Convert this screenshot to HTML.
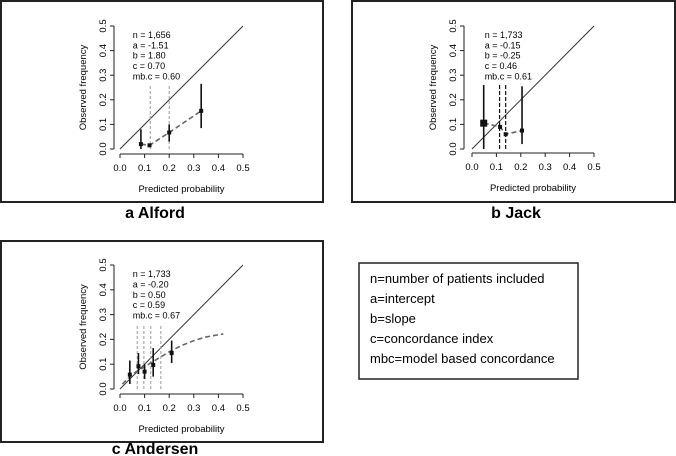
<!DOCTYPE html>
<html><head><meta charset="utf-8"><style>
body{margin:0;background:#fff;width:676px;height:456px;overflow:hidden}
svg{display:block}
text{font-family:"Liberation Sans",Arial,sans-serif}
</style></head><body>
<svg id="s" width="676" height="456" viewBox="0 0 676 456" xmlns="http://www.w3.org/2000/svg">
<rect x="1" y="1" width="322" height="201" fill="none" stroke="#222" stroke-width="2"/>
<rect x="352" y="1" width="323" height="201" fill="none" stroke="#222" stroke-width="2"/>
<rect x="1" y="241" width="322" height="201" fill="none" stroke="#222" stroke-width="2"/>
<text x="155" y="218" font-size="16" font-weight="bold" text-anchor="middle">a  Alford</text>
<text x="516" y="218" font-size="16" font-weight="bold" text-anchor="middle">b  Jack</text>
<text x="155" y="454" font-size="16" font-weight="bold" text-anchor="middle">c  Andersen</text>
<g>
<rect x="359" y="263" width="219" height="116" fill="none" stroke="#222" stroke-width="1.5"/>
<text x="370" y="283" font-size="13">n=number of patients included</text>
<text x="370" y="303" font-size="13">a=intercept</text>
<text x="370" y="323" font-size="13">b=slope</text>
<text x="370" y="343" font-size="13">c=concordance index</text>
<text x="370" y="363" font-size="13">mbc=model based concordance</text>
</g>
</svg>
<script>
const tickLabels = ["0.0","0.1","0.2","0.3","0.4","0.5"];
const tickValues = [0,0.1,0.2,0.3,0.4,0.5];
// Panel a (Alford)
const aStats = ["n = 1,656","a = -1.51","b = 1.80","c = 0.70","mb.c = 0.60"];
const aX = [0.085,0.12,0.20,0.33];
const aY = [0.02,0.015,0.067,0.155];
const aLo = [0.0,0.015,0.03,0.085];
const aHi = [0.08,0.015,0.10,0.265];
const aCuts = [0.123,0.2];
// Panel b (Jack)
const bStats = ["n = 1,733","a = -0.15","b = -0.25","c = 0.46","mb.c = 0.61"];
const bX = [0.048,0.115,0.138,0.205];
const bY = [0.105,0.09,0.06,0.075];
const bLo = [0.0,0.09,0.06,0.02];
const bHi = [0.26,0.09,0.06,0.255];
const bCuts = [0.113,0.138];
// Panel c (Andersen)
const cStats = ["n = 1,733","a = -0.20","b = 0.50","c = 0.59","mb.c = 0.67"];
const cX = [0.04,0.075,0.10,0.135,0.21];
const cY = [0.058,0.092,0.07,0.097,0.145];
const cLo = [0.02,0.06,0.04,0.05,0.105];
const cHi = [0.115,0.145,0.10,0.165,0.195];
const cCuts = [0.07,0.097,0.125,0.166];
const cCurveX = [0.01,0.05,0.1,0.15,0.2,0.25,0.3,0.35,0.42];
const cCurveY = [0.02,0.06,0.09,0.12,0.15,0.175,0.195,0.21,0.222];

const NS="http://www.w3.org/2000/svg";
const svg=document.getElementById('s');
function mk(tag,attrs,parent){const e=document.createElementNS(NS,tag);for(const k in attrs)e.setAttribute(k,attrs[k]);parent.appendChild(e);return e;}

function panel(id,x0,x1,y0,y1,axY,axX,stats,xs,ys,lo,hi,cuts,cutStyle,lineX,lineY,squareFirst){
  const g=mk('g',{},svg);
  
  
  const sx=v=>x0+(x1-x0)*v/0.5, sy=v=>y0+(y1-y0)*v/0.5;
  const xa=mk('line',{x1:sx(0),x2:sx(0.5),y1:axY,y2:axY,stroke:'#222','stroke-width':1},g);
  
  
  const ya=mk('line',{x1:axX,x2:axX,y1:sy(0),y2:sy(0.5),stroke:'#222','stroke-width':1},g);
  
  
  tickValues.forEach((v,i)=>{
    mk('line',{x1:sx(v),x2:sx(v),y1:axY,y2:axY+4,stroke:'#222'},g);
    mk('line',{x1:axX,x2:axX-4,y1:sy(v),y2:sy(v),stroke:'#222'},g);
    const t=mk('text',{x:sx(v),y:axY+17,'font-size':9.5,'text-anchor':'middle'},g);t.textContent=tickLabels[i];
    
    
    const t2=mk('text',{x:0,y:0,'font-size':9.5,'text-anchor':'middle',transform:`translate(${axX-8},${sy(v)}) rotate(-90)`},g);t2.textContent=tickLabels[i];
    
    
  });
  const xt=mk('text',{x:(sx(0)+sx(0.5))/2,y:axY+38,'font-size':9.5,'text-anchor':'middle'},g);xt.textContent='Predicted probability';
  
  
  const yt=mk('text',{x:0,y:0,'font-size':9.5,'text-anchor':'middle',transform:`translate(${axX-28},${(sy(0)+sy(0.5))/2}) rotate(-90)`},g);yt.textContent='Observed frequency';
  
  
  const d=mk('line',{x1:sx(0),y1:sy(0),x2:sx(0.5),y2:sy(0.5),stroke:'#333','stroke-width':1},g);
  
  
  stats.forEach((s,i)=>{const t=mk('text',{x:sx(0.05)+0.5,y:sy(0.455)+1+i*10.3,'font-size':9},g);t.textContent=s;
    
    });
  cuts.forEach(c=>{const l=mk('line',{x1:sx(c),x2:sx(c),y1:sy(0),y2:sy(0.26),stroke:cutStyle.color,'stroke-width':cutStyle.w,'stroke-dasharray':cutStyle.dash},g);
    
    });
  const pts=lineX.map((v,i)=>sx(v)+','+sy(lineY[i])).join(' ');
  const pl=mk('polyline',{points:pts,fill:'none',stroke:'#666','stroke-width':1.6,'stroke-dasharray':'5,3'},g);
  
  
  xs.forEach((v,i)=>{
    if(hi[i]>lo[i]){const l=mk('line',{x1:sx(v),x2:sx(v),y1:sy(lo[i]),y2:sy(hi[i]),stroke:'#111','stroke-width':1.6},g);
      
      }
    const r=(squareFirst&&i===0)?3.5:2;
    const p=mk('rect',{x:sx(v)-r,y:sy(ys[i])-r,width:2*r,height:2*r,fill:'#111'},g);
    
    
  });
}
panel('panel-a',120,243,149,26,154,114,aStats,aX,aY,aLo,aHi,aCuts,{color:'#999',w:1,dash:'3,2'},aX,aY,false);
panel('panel-b',472,594,149,26,153,464,bStats,bX,bY,bLo,bHi,bCuts,{color:'#111',w:1.2,dash:'4,2'},bX,bY,true);
panel('panel-c',120,243,389,265,394,114,cStats,cX,cY,cLo,cHi,cCuts,{color:'#999',w:1,dash:'3,2'},cCurveX,cCurveY,false);
</script>
</body></html>
